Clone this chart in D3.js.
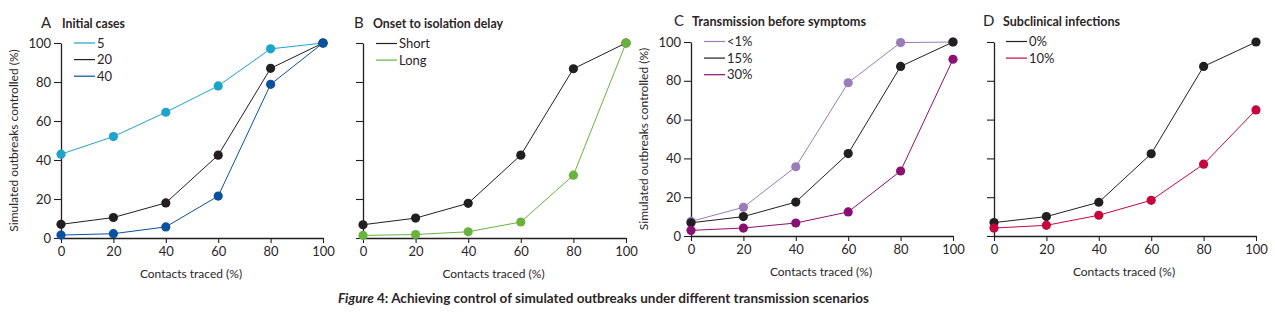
<!DOCTYPE html>
<html>
<head>
<meta charset="utf-8">
<script src="https://cdn.jsdelivr.net/npm/d3@7"></script>
<style>
  body { margin: 0; background: #fff; }
  svg text { font-family: Lato, "Open Sans", "DejaVu Sans", sans-serif; fill: #2b2527; }
</style>
</head>
<body>
<div id="chart"></div>
<script>
// values (% of simulated outbreaks controlled)
var contacts = [0, 20, 40, 60, 80, 100]
var xTicks = [0, 20, 40, 60, 80, 100]
var yTicks = [0, 20, 40, 60, 80, 100]

var initialLabels = ["5", "20", "40"]
var initial5 = [43, 52, 64.5, 78, 97, 100]
var initial20 = [7, 10.5, 18, 42.5, 87, 100]
var initial40 = [1.5, 2.2, 5.7, 21.5, 78.8, 100]

var delayLabels = ["Short", "Long"]
var delayShort = [6.8, 10.2, 17.8, 42.5, 86.8, 100]
var delayLong = [1.3, 1.8, 3.2, 8.2, 32.2, 100]

var presympLabels = ["<1%", "15%", "30%"]
var presympLow = [7.5, 14.8, 35.7, 79, 99.7, 100]
var presymp15 = [6.8, 10, 17.5, 42.5, 87.4, 100]
var presymp30 = [2.9, 4.1, 6.7, 12.4, 33.5, 91.1]

var subclinLabels = ["0%", "10%"]
var subclin0 = [6.9, 10, 17.4, 42.4, 87.4, 100]
var subclin10 = [4.1, 5.5, 10.7, 18.4, 37, 65]

const W = 1275, H = 321
const svg = d3.select("#chart").append("svg")
    .attr("width", W).attr("height", H)

const panels = [
  { letter: "A", title: "Initial cases", titleLen: 63, letterX: 41, titleX: 62, titleY: 28,
    x0: 61, x1: 323, y0: 238, y1: 43, yLabels: true, legendX: 74, legendY: 43,
    series: [initial5, initial20, initial40], labels: initialLabels,
    colors: ["#1ea4cb", "#231f20", "#0b519d"] },
  { letter: "B", title: "Onset to isolation delay", titleLen: 130, letterX: 354, titleX: 373, titleY: 28,
    x0: 363, x1: 626, y0: 238, y1: 43, yLabels: false, legendX: 376, legendY: 43.5,
    series: [delayShort, delayLong], labels: delayLabels,
    colors: ["#231f20", "#6ab23e"] },
  { letter: "C", title: "Transmission before symptoms", titleLen: 174, letterX: 674, titleX: 692, titleY: 26,
    x0: 691, x1: 953, y0: 236, y1: 42, yLabels: true, legendX: 704, legendY: 41.5,
    series: [presympLow, presymp15, presymp30], labels: presympLabels,
    colors: ["#9b7bb8", "#231f20", "#8a0f72"] },
  { letter: "D", title: "Subclinical infections", titleLen: 117, letterX: 983, titleX: 1003, titleY: 26,
    x0: 994, x1: 1256, y0: 236, y1: 42, yLabels: false, legendX: 1006, legendY: 41.5,
    series: [subclin0, subclin10], labels: subclinLabels,
    colors: ["#231f20", "#c4073f"] }
]

panels.forEach(function(p){
    var x = d3.scaleLinear().domain([0, 100]).range([p.x0, p.x1])
    var y = d3.scaleLinear().domain([0, 100]).range([p.y0, p.y1])
    var g = svg.append("g")

    // axes
    var xa = g.append("g")
        .attr("transform", "translate(0," + p.y0 + ")")
        .call(d3.axisBottom(x).tickValues(xTicks).tickSize(5).tickSizeOuter(0).tickPadding(4))
    var ya = g.append("g")
        .attr("transform", "translate(" + p.x0 + ",0)")
        .call(d3.axisLeft(y).tickValues(yTicks).tickSize(7).tickSizeOuter(0).tickPadding(3)
            .tickFormat(p.yLabels ? d3.format("d") : ""))
    ;[xa, ya].forEach(function(a){
        a.select(".domain").attr("stroke", "#231f20").attr("stroke-width", 1.3)
        a.selectAll(".tick line").attr("stroke", "#231f20").attr("stroke-width", 1.1)
        a.selectAll(".tick text").style("font-size", "13px").attr("fill", "#2f2a2c")
    })

    // titles
    g.append("text").attr("x", p.letterX).attr("y", p.titleY)
        .text(p.letter).style("font-size", "15px")
    g.append("text").attr("x", p.titleX).attr("y", p.titleY)
        .text(p.title).style("font-size", "12.5px").style("font-weight", "bold")
        .attr("textLength", p.titleLen).attr("lengthAdjust", "spacingAndGlyphs")

    g.append("text")
        .attr("x", (p.x0 + p.x1) / 2 - 1).attr("y", p.y0 + 40)
        .attr("text-anchor", "middle")
        .text("Contacts traced (%)").style("font-size", "12px")

    if (p.yLabels) {
        g.append("text")
            .attr("transform", "translate(" + (p.x0 - 43) + "," + ((p.y0 + p.y1) / 2) + ") rotate(-90)")
            .attr("text-anchor", "middle")
            .text("Simulated outbreaks controlled (%)").style("font-size", "12px")
    }

    // lines + dots
    var line = d3.line().x((d, i) => x(contacts[i])).y(d => y(d))
    p.series.forEach(function(s, k){
        g.append("path").datum(s)
            .attr("d", line)
            .attr("fill", "none")
            .attr("stroke", p.colors[k])
            .attr("stroke-width", 1)
        g.selectAll(".dot" + k).data(s).enter().append("circle")
            .attr("cx", (d, i) => x(contacts[i]))
            .attr("cy", d => y(d))
            .attr("r", 4.6)
            .attr("fill", p.colors[k])
    })

    // legend
    p.labels.forEach(function(lab, k){
        var ly = p.legendY + k * 16.6
        g.append("line")
            .attr("x1", p.legendX).attr("x2", p.legendX + 21)
            .attr("y1", ly).attr("y2", ly)
            .attr("stroke", p.colors[k]).attr("stroke-width", 1.2)
        g.append("text")
            .attr("x", p.legendX + 23).attr("y", ly + 4.5)
            .text(lab).style("font-size", "13px")
    })
})

// caption
var cap = svg.append("text").attr("x", 338).attr("y", 303)
    .style("font-size", "12.5px").style("font-weight", "bold")
    .attr("textLength", 531).attr("lengthAdjust", "spacingAndGlyphs")
cap.append("tspan").text("Figure").style("font-style", "italic")
cap.append("tspan").text(" 4: Achieving control of simulated outbreaks under different transmission scenarios")
</script>
</body>
</html>
